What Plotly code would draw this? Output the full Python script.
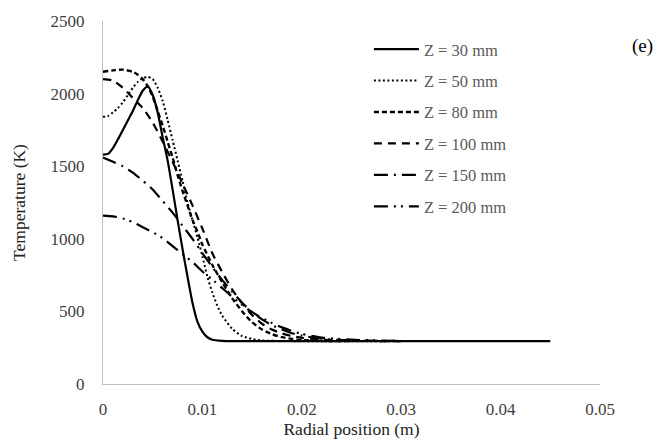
import plotly.graph_objects as go

# Radial position (m) and temperature (K) for each axial location
x30 = [0, 0.0005, 0.001, 0.0015, 0.002, 0.0025, 0.003, 0.0035, 0.004, 0.0045, 0.005, 0.0055, 0.006,
       0.0065, 0.007, 0.0075, 0.008, 0.0085, 0.009, 0.0095, 0.010, 0.0105, 0.011, 0.012, 0.013, 0.02, 0.03, 0.045]
t30 = [1580, 1585, 1625, 1685, 1750, 1815, 1880, 1955, 2020, 2050, 1990, 1870, 1700,
       1540, 1340, 1130, 930, 740, 560, 430, 360, 322, 305, 297, 295, 295, 295, 295]

x50 = [0, 0.0005, 0.001, 0.0015, 0.002, 0.0025, 0.003, 0.0035, 0.004, 0.0045, 0.005, 0.0055, 0.006,
       0.0065, 0.007, 0.0075, 0.008, 0.0085, 0.009, 0.0095, 0.010, 0.0105, 0.011, 0.0115, 0.012, 0.013,
       0.014, 0.015, 0.016, 0.018, 0.02, 0.03]
t50 = [1840, 1845, 1870, 1900, 1940, 1990, 2040, 2080, 2105, 2115, 2100, 2040, 1950,
       1820, 1680, 1540, 1400, 1250, 1130, 1010, 880, 740, 630, 540, 470, 380,
       330, 310, 300, 296, 295, 295]

x80 = [0, 0.001, 0.002, 0.003, 0.0035, 0.004, 0.0045, 0.005, 0.0055, 0.006, 0.0065, 0.007, 0.0075,
       0.008, 0.0085, 0.009, 0.0095, 0.010, 0.011, 0.012, 0.013, 0.014, 0.015, 0.016, 0.017, 0.018,
       0.019, 0.02, 0.022, 0.025]
t80 = [2150, 2160, 2165, 2150, 2130, 2100, 2050, 1980, 1880, 1780, 1670, 1560, 1440,
       1330, 1230, 1130, 1050, 960, 820, 700, 590, 500, 425, 375, 343, 323,
       310, 302, 297, 295]

x100 = [0, 0.001, 0.002, 0.003, 0.004, 0.005, 0.006, 0.007, 0.008, 0.009, 0.010, 0.011, 0.012,
        0.013, 0.014, 0.015, 0.016, 0.017, 0.018, 0.019, 0.02, 0.022, 0.025, 0.03]
t100 = [2100, 2090, 2040, 1970, 1900, 1800, 1670, 1530, 1380, 1230, 1070, 900, 770,
        650, 555, 475, 415, 375, 348, 330, 318, 305, 298, 295]

x150 = [0, 0.001, 0.002, 0.003, 0.004, 0.005, 0.006, 0.007, 0.008, 0.009, 0.010, 0.011, 0.012,
        0.013, 0.014, 0.015, 0.016, 0.017, 0.018, 0.019, 0.02, 0.022, 0.025, 0.03]
t150 = [1560, 1530, 1500, 1455, 1400, 1340, 1260, 1180, 1090, 1000, 900, 805, 715,
        635, 560, 495, 445, 405, 375, 350, 333, 312, 300, 296]

x200 = [0, 0.001, 0.002, 0.003, 0.004, 0.005, 0.006, 0.007, 0.008, 0.009, 0.010, 0.011, 0.012,
        0.013, 0.014, 0.015, 0.016, 0.017, 0.018, 0.019, 0.02, 0.022, 0.025, 0.03]
t200 = [1160, 1155, 1140, 1115, 1080, 1045, 1005, 950, 895, 840, 775, 720, 660,
        600, 545, 495, 455, 420, 390, 365, 345, 320, 305, 297]

names = ["Z = 30 mm", "Z = 50 mm", "Z = 80 mm", "Z = 100 mm", "Z = 150 mm", "Z = 200 mm"]
xs = [x30, x50, x80, x100, x150, x200]
ts = [t30, t50, t80, t100, t150, t200]
dashes = ["solid", "2px,2.5px", "5px,3px", "8px,6px", "14px,6px,2px,6px", "14px,6px,2px,5px,2px,6px"]
widths = [2.2, 2, 2.4, 2.2, 2.2, 2.2]

fig = go.Figure()
for i in range(6):
    fig.add_trace(go.Scatter(
        x=xs[i], y=ts[i], mode="lines", name=names[i],
        line=dict(color="black", width=widths[i], dash=dashes[i], shape="spline", smoothing=0.6),
        legendgroup=str(i),
    ))

serif = "Liberation Serif, Times New Roman, serif"
fig.update_layout(
    width=657, height=446,
    margin=dict(l=103, r=57, t=16, b=60),
    paper_bgcolor="white", plot_bgcolor="white",
    showlegend=True,
    legend=dict(x=0.535, y=0.97, xanchor="left", yanchor="top",
                font=dict(family=serif, size=16.5, color="#595959"),
                bgcolor="rgba(0,0,0,0)", tracegroupgap=7, itemwidth=45),
    font=dict(family=serif, color="#595959"),
)
fig.update_xaxes(range=[0, 0.05], dtick=0.01, tick0=0, showgrid=False, zeroline=False,
                 showline=True, linecolor="#bfbfbf", linewidth=1, ticks="",
                 tickfont=dict(family=serif, size=17, color="#404040"),
                 ticklabelstandoff=10,
                 title=dict(text="Radial position (m)", font=dict(family=serif, size=17.5, color="#222222"), standoff=2))
fig.update_yaxes(range=[0, 2500], dtick=500, showgrid=False, zeroline=False,
                 showline=True, linecolor="#bfbfbf", linewidth=1, ticks="",
                 tickfont=dict(family=serif, size=17, color="#404040"),
                 ticklabelstandoff=14,
                 title=dict(text="Temperature (K)", font=dict(family=serif, size=17.5, color="#222222"), standoff=20))
fig.add_annotation(text="(e)", xref="paper", yref="paper", x=1.11, y=0.93,
                   xanchor="right", yanchor="middle", showarrow=False,
                   font=dict(family=serif, size=19, color="black"))

fig.write_html("out.html")
